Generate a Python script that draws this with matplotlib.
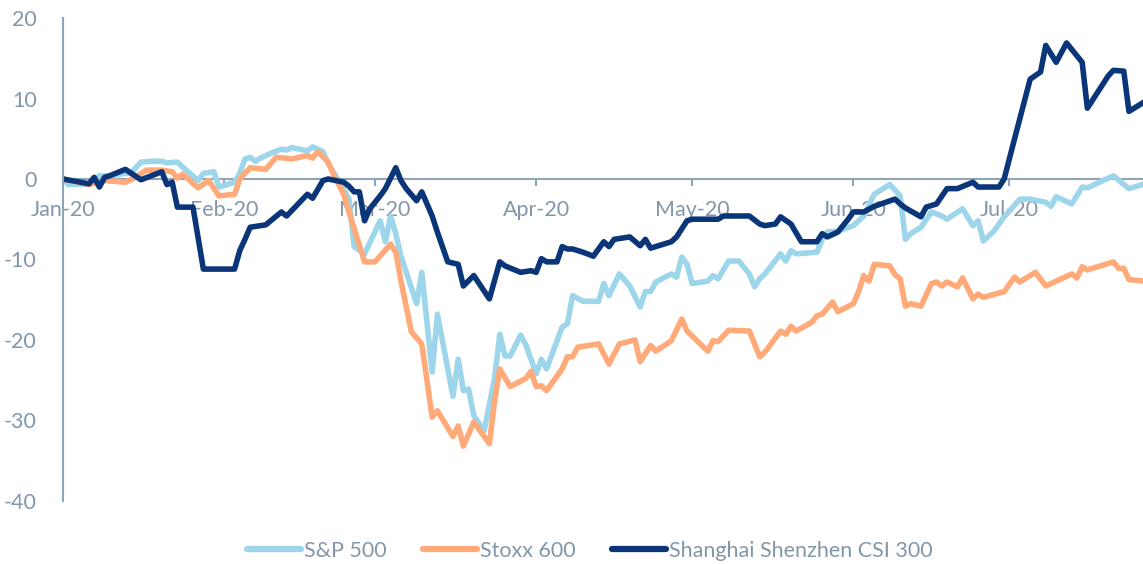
import matplotlib
matplotlib.use("Agg")
import matplotlib.pyplot as plt
import pandas as pd

# ---------------- data (day offset from 2020-01-01, % change) ----------------
start = "2020-01-01"

sp_days = [0, 1, 5, 7, 9, 12, 13, 15, 17, 19, 20, 22, 23, 26, 27, 29, 30, 33, 34, 35, 36, 37, 38,
           40, 42, 43, 44, 47, 48, 50, 51, 53, 55, 56, 58, 61, 62, 63, 64, 65, 68, 69, 71, 72, 75,
           76, 77, 78, 79, 81, 83, 84, 85, 86, 88, 89, 91, 92, 93, 96, 97, 98, 100, 103, 104, 105,
           107, 109, 111, 112, 113, 114, 117, 118, 119, 120, 121, 124, 125, 126, 128, 130, 132, 133,
           134, 135, 138, 139, 140, 141, 145, 146, 147, 149, 152, 154, 156, 159, 161, 162, 163, 165,
           167, 169, 170, 173, 175, 176, 177, 179, 181, 182, 184, 186, 189, 190, 191, 194, 196, 197,
           202, 205, 208]
sp_vals = [0, -0.7, -0.6, 0.4, 0.4, 0.7, 0.7, 2.1, 2.2, 2.2, 2.0, 2.1, 1.5, -0.2, 0.7, 0.9, -1.0,
           -0.4, 0.7, 2.5, 2.7, 2.2, 2.6, 3.2, 3.7, 3.6, 3.9, 3.5, 4.0, 3.4, 1.9, -0.2, -2.5, -8.4,
           -9.3, -5.2, -7.8, -4.6, -6.8, -9.6, -15.5, -11.6, -24.0, -16.8, -27.0, -22.4, -26.3,
           -26.1, -29.4, -31.3, -24.8, -19.3, -22.0, -22.0, -19.4, -20.6, -24.2, -22.4, -23.6,
           -18.4, -18.0, -14.5, -15.2, -15.2, -13.0, -14.5, -11.8, -13.3, -15.9, -14.0, -14.0,
           -12.8, -11.8, -12.2, -9.7, -10.6, -13.0, -12.7, -12.0, -12.4, -10.2, -10.2, -11.8,
           -13.4, -12.4, -11.8, -9.3, -10.2, -8.9, -9.3, -9.1, -7.5, -6.6, -6.5, -5.8, -4.6, -1.9,
           -0.7, -2.1, -7.5, -6.8, -6.0, -4.1, -4.6, -5.0, -3.7, -5.8, -5.2, -7.7, -6.5, -4.7,
           -4.0, -2.5, -2.5, -2.9, -3.4, -2.2, -3.1, -1.0, -1.1, 0.4, -1.2, -0.6]

stoxx_days = [0, 5, 8, 12, 14, 16, 19, 21, 22, 23, 26, 28, 30, 33, 34, 36, 39, 41, 44, 47, 48, 49,
              51, 52, 54, 55, 58, 60, 63, 64, 65, 67, 69, 71, 72, 75, 76, 77, 79, 82, 83, 84, 86,
              89, 90, 91, 92, 93, 96, 97, 98, 99, 103, 105, 107, 110, 111, 113, 114, 117, 119, 120,
              124, 125, 126, 128, 132, 134, 135, 138, 139, 140, 141, 144, 145, 146, 148, 149, 152,
              153, 154, 155, 156, 159, 160, 161, 162, 163, 165, 167, 168, 169, 170, 172, 173, 175,
              176, 177, 181, 183, 184, 187, 189, 191, 194, 195, 196, 197, 202, 203, 204, 205, 208]
stoxx_vals = [0, -0.7, -0.2, -0.4, 0.2, 1.1, 1.1, 0.9, 0.1, 0.6, -1.1, -0.2, -2.1, -1.9, 0, 1.4,
              1.2, 2.7, 2.5, 2.9, 2.6, 3.4, 2.1, 0.6, -1.9, -4.1, -10.3, -10.3, -8.1, -9.1, -12.7,
              -19.0, -20.5, -29.6, -28.8, -32.0, -30.7, -33.2, -30.2, -32.9, -27.6, -23.6, -25.8,
              -24.8, -23.9, -25.8, -25.7, -26.3, -23.6, -22.1, -22.1, -20.9, -20.5, -23.0, -20.5,
              -20.0, -22.7, -20.7, -21.4, -20.1, -17.4, -18.9, -21.4, -20.1, -20.2, -18.8, -18.9,
              -22.1, -21.5, -18.9, -19.3, -18.3, -18.9, -17.8, -17.0, -16.8, -15.3, -16.5, -15.5,
              -14.0, -12.0, -12.7, -10.6, -10.8, -11.9, -12.4, -15.8, -15.5, -15.8, -13.0, -12.8,
              -13.3, -12.8, -13.4, -12.3, -14.9, -14.3, -14.7, -14.0, -12.2, -12.8, -11.6, -13.3,
              -12.7, -11.8, -12.3, -10.9, -11.3, -10.3, -11.1, -11.1, -12.5, -12.7]

csi_days = [0, 5, 6, 7, 8, 9, 12, 15, 19, 20, 21, 22, 25, 27, 33, 34, 35, 36, 38, 39, 42, 43, 47,
            48, 50, 51, 54, 55, 56, 57, 58, 59, 61, 62, 64, 65, 66, 68, 69, 71, 72, 74, 76, 77, 79,
            82, 84, 85, 88, 90, 91, 92, 93, 95, 96, 97, 98, 100, 102, 104, 105, 106, 109, 111, 112,
            113, 117, 118, 120, 121, 126, 127, 132, 134, 135, 137, 138, 140, 142, 145, 146, 147,
            149, 151, 152, 154, 156, 160, 161, 162, 165, 166, 168, 170, 172, 175, 176, 180, 181,
            183, 186, 188, 189, 191, 193, 196, 197, 201, 202, 204, 205, 208]
csi_vals = [0, -0.6, 0.2, -1.0, 0.2, 0.4, 1.2, -0.1, 0.9, -0.7, -0.4, -3.5, -3.5, -11.2, -11.2,
            -8.9, -7.5, -6.0, -5.8, -5.7, -4.1, -4.6, -1.9, -2.4, -0.2, 0, -0.4, -0.9, -1.6, -1.6,
            -5.2, -3.7, -2.1, -1.2, 1.4, -0.2, -1.2, -2.7, -1.6, -4.6, -6.6, -10.3, -10.6, -13.3,
            -12.0, -14.9, -10.3, -10.8, -11.6, -11.4, -11.6, -9.9, -10.3, -10.3, -8.4, -8.7, -8.7,
            -9.1, -9.6, -7.8, -8.4, -7.5, -7.2, -8.3, -7.5, -8.6, -7.8, -7.2, -5.2, -5.0, -5.0,
            -4.6, -4.6, -5.6, -5.8, -5.6, -4.7, -5.6, -7.8, -7.8, -6.8, -7.2, -6.6, -5.0, -4.1,
            -4.1, -3.4, -2.5, -3.1, -3.6, -4.7, -3.5, -3.1, -1.2, -1.2, -0.4, -1.0, -1.0, 0, 5.0,
            12.4, 13.3, 16.6, 14.5, 16.9, 14.5, 8.8, 12.8, 13.5, 13.4, 8.4, 9.6]

series_names = ["S&P 500", "Stoxx 600", "Shanghai Shenzhen CSI 300"]
month_labels = ["Jan-20", "Feb-20", "Mar-20", "Apr-20", "May-20", "Jun-20", "Jul-20"]
y_ticks = [-40, -30, -20, -10, 0, 10, 20]

# ---------------- styling ----------------
plt.rcParams["font.family"] = ["Lato", "DejaVu Sans"]
plt.rcParams["axes.unicode_minus"] = False

c_sp = "#9dd6ea"
c_stoxx = "#ffaa78"
c_csi = "#0a3578"
c_axis = "#8fa5b6"
c_text = "#8297a9"

t0 = pd.Timestamp(start)
def to_dates(days):
    return [t0 + pd.Timedelta(days=d) for d in days]

fig = plt.figure(figsize=(11.43, 5.64), dpi=100)
ax = fig.add_axes([0.0551, 0.112, 0.9449, 0.856])

lw = 4.0
ax.plot(to_dates(sp_days), sp_vals, color=c_sp, lw=lw, label=series_names[0],
        solid_joinstyle="round", solid_capstyle="round")
ax.plot(to_dates(stoxx_days), stoxx_vals, color=c_stoxx, lw=lw, label=series_names[1],
        solid_joinstyle="round", solid_capstyle="round")
ax.plot(to_dates(csi_days), csi_vals, color=c_csi, lw=lw, label=series_names[2],
        solid_joinstyle="round", solid_capstyle="round")

ax.set_ylim(-40, 20)
ax.set_xlim(t0, t0 + pd.Timedelta(days=207.7))
ax.set_yticks(y_ticks)
ax.set_yticklabels([str(v) for v in y_ticks])

month_starts = pd.date_range(start, periods=len(month_labels), freq="MS")
ax.set_xticks(month_starts)
ax.set_xticklabels(month_labels)

for s in ["top", "right"]:
    ax.spines[s].set_visible(False)
ax.spines["bottom"].set_position(("data", 0))
ax.spines["bottom"].set_color(c_axis)
ax.spines["bottom"].set_linewidth(1.5)
ax.spines["bottom"].set_zorder(0.5)
ax.spines["left"].set_color(c_axis)
ax.spines["left"].set_linewidth(1.5)

ax.tick_params(axis="y", length=0, pad=19, labelsize=15.5, labelcolor=c_text)
ax.tick_params(axis="x", length=5, width=1.5, color=c_axis, direction="out", pad=10,
               labelsize=15.5, labelcolor=c_text)

leg = fig.legend(loc="center", bbox_to_anchor=(0.516, 0.023), ncol=3, frameon=False,
                 fontsize=15.5, handlelength=2.5, handletextpad=0.13, columnspacing=1.7,
                 labelcolor=c_text)
for h in leg.legend_handles:
    h.set_linewidth(4.5)
    h.set_solid_capstyle("round")

fig.savefig("out.png", dpi=100)
